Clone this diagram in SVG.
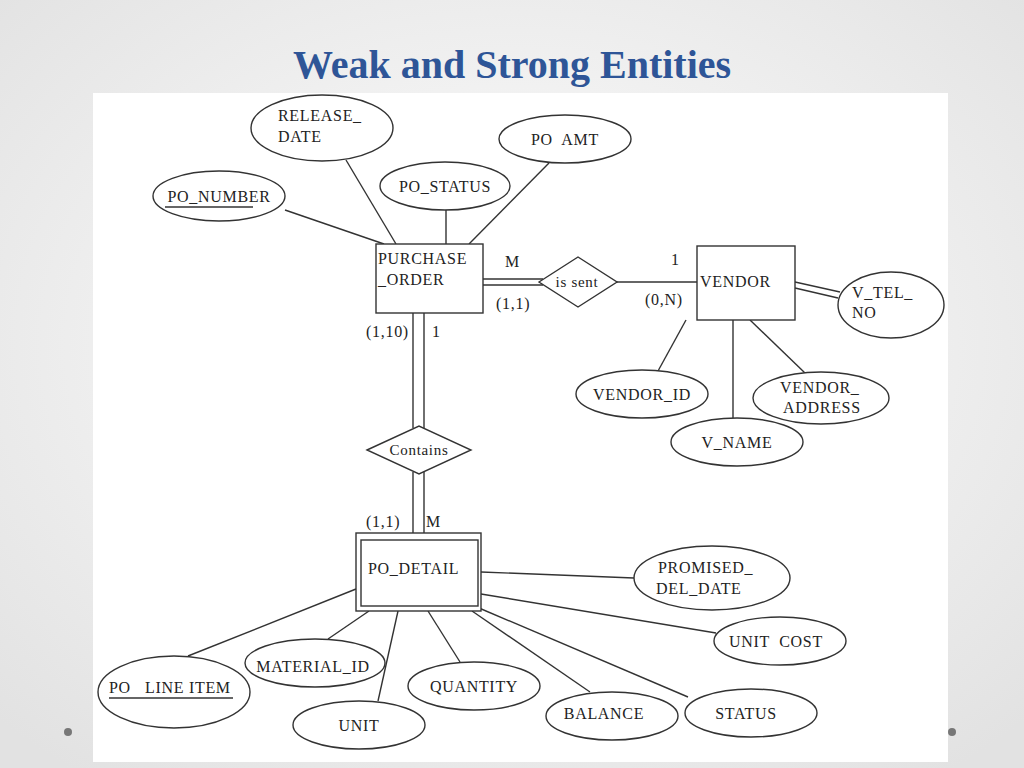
<svg xmlns="http://www.w3.org/2000/svg" width="1024" height="768" viewBox="0 0 1024 768">
<defs>
<radialGradient id="bg" cx="50%" cy="45%" r="70%"><stop offset="0" stop-color="#ffffff"/><stop offset="1" stop-color="#e2e2e2"/></radialGradient>
<style>
.s{fill:none;stroke:#333;stroke-width:1.4}
.n{fill:#fff;stroke:#333;stroke-width:1.4}
text{font-family:"Liberation Serif","DejaVu Serif",serif;font-size:16px;fill:#222;letter-spacing:0.7px;white-space:pre}
.c{text-anchor:middle}
</style>
</defs>
<rect width="1024" height="768" fill="url(#bg)"/>
<text x="512" y="78" class="c" style="font-size:40px;font-weight:bold;fill:#2e5597;letter-spacing:0">Weak and Strong Entities</text>
<circle cx="68" cy="732" r="4" fill="#777"/><circle cx="952" cy="732" r="4" fill="#777"/>
<rect x="93" y="93" width="855" height="669" fill="#fff"/>
<g id="connectors" class="s">
<line x1="346" y1="160" x2="396" y2="244"/>
<line x1="549" y1="163" x2="469" y2="244"/>
<line x1="446" y1="210" x2="446" y2="244"/>
<line x1="285" y1="210" x2="384" y2="244"/>
<line x1="483" y1="279" x2="543" y2="279"/><line x1="483" y1="285" x2="543" y2="285"/>
<line x1="617" y1="282" x2="697" y2="282"/>
<line x1="795" y1="282" x2="840" y2="292"/><line x1="795" y1="288" x2="838" y2="298"/>
<line x1="686" y1="320" x2="658" y2="371"/>
<line x1="733" y1="320" x2="733" y2="418"/>
<line x1="750" y1="320" x2="805" y2="373"/>
<line x1="413" y1="313" x2="413" y2="428"/><line x1="424" y1="313" x2="424" y2="429"/>
<line x1="413" y1="472" x2="413" y2="533"/><line x1="424" y1="471" x2="424" y2="533"/>
<line x1="481" y1="572" x2="634" y2="578"/>
<line x1="481" y1="594" x2="716" y2="633"/>
<line x1="479" y1="608" x2="688" y2="697"/>
<line x1="472" y1="611" x2="590" y2="692"/>
<line x1="428" y1="611" x2="460" y2="662"/>
<line x1="398" y1="611" x2="378" y2="701"/>
<line x1="369" y1="611" x2="328" y2="639"/>
<line x1="356" y1="589" x2="188" y2="656"/>
</g>
<g id="release_date"><ellipse cx="322" cy="128" rx="71" ry="33" class="n"/><text x="278" y="121">RELEASE_</text><text x="278" y="142">DATE</text></g>
<g id="po_amt"><ellipse cx="565" cy="139" rx="66" ry="24" class="n"/><text x="565" y="145" class="c" xml:space="preserve">PO  AMT</text></g>
<g id="po_status"><ellipse cx="445" cy="186" rx="65" ry="24" class="n"/><text x="445" y="192" class="c">PO_STATUS</text></g>
<g id="po_number"><ellipse cx="219" cy="196" rx="66" ry="25" class="n"/><text x="219" y="202" class="c">PO_NUMBER</text><line x1="165" y1="207" x2="253" y2="207" class="s"/></g>
<g id="purchase_order"><rect x="376" y="244" width="107" height="69" class="n"/><text x="378" y="264">PURCHASE</text><text x="378" y="285">_ORDER</text></g>
<g id="is_sent"><polygon points="539,282 578,257 617,282 578,307" class="n"/><text x="577" y="287" class="c" style="font-size:15px">is sent</text></g>
<g id="vendor"><rect x="697" y="246" width="98" height="74" class="n"/><text x="700" y="287">VENDOR</text></g>
<g id="v_tel_no"><ellipse cx="891" cy="305" rx="53" ry="33" class="n"/><text x="852" y="298">V_TEL_</text><text x="852" y="318">NO</text></g>
<g id="vendor_id"><ellipse cx="642" cy="394" rx="66" ry="24" class="n"/><text x="642" y="400" class="c">VENDOR_ID</text></g>
<g id="vendor_address"><ellipse cx="821" cy="398" rx="68" ry="26" class="n"/><text x="780" y="393">VENDOR_</text><text x="783" y="413">ADDRESS</text></g>
<g id="v_name"><ellipse cx="737" cy="442" rx="66" ry="24" class="n"/><text x="737" y="448" class="c">V_NAME</text></g>
<g id="contains"><polygon points="367,450 419,426 471,450 419,474" class="n"/><text x="419" y="455" class="c" style="font-size:15px">Contains</text></g>
<g id="po_detail"><rect x="356" y="533" width="125" height="78" class="n"/><rect x="361" y="540" width="117" height="66" class="n"/><text x="368" y="574">PO_DETAIL</text></g>
<g id="promised_del_date"><ellipse cx="712" cy="578" rx="78" ry="32" class="n"/><text x="658" y="573">PROMISED_</text><text x="656" y="594">DEL_DATE</text></g>
<g id="unit_cost"><ellipse cx="780" cy="641" rx="66" ry="24" class="n"/><text x="776" y="647" class="c" xml:space="preserve">UNIT  COST</text></g>
<g id="status"><ellipse cx="751" cy="713" rx="66" ry="24" class="n"/><text x="746" y="719" class="c">STATUS</text></g>
<g id="balance"><ellipse cx="612" cy="716" rx="66" ry="24" class="n"/><text x="604" y="719" class="c">BALANCE</text></g>
<g id="quantity"><ellipse cx="474" cy="686" rx="66" ry="24" class="n"/><text x="474" y="692" class="c">QUANTITY</text></g>
<g id="material_id"><ellipse cx="315" cy="663" rx="70" ry="24" class="n"/><text x="313" y="672" class="c">MATERIAL_ID</text></g>
<g id="unit"><ellipse cx="359" cy="725" rx="66" ry="24" class="n"/><text x="359" y="731" class="c">UNIT</text></g>
<g id="po_line_item"><ellipse cx="174" cy="692" rx="76" ry="36" class="n"/><text x="109" y="693" xml:space="preserve">PO   LINE ITEM</text><line x1="109" y1="698" x2="233" y2="698" class="s"/></g>
<g id="labels">
<text x="505" y="267">M</text><text x="496" y="309">(1,1)</text>
<text x="671" y="265">1</text><text x="645" y="305">(0,N)</text>
<text x="366" y="337">(1,10)</text><text x="432" y="337">1</text>
<text x="366" y="527">(1,1)</text><text x="426" y="527">M</text>
</g>
</svg>
